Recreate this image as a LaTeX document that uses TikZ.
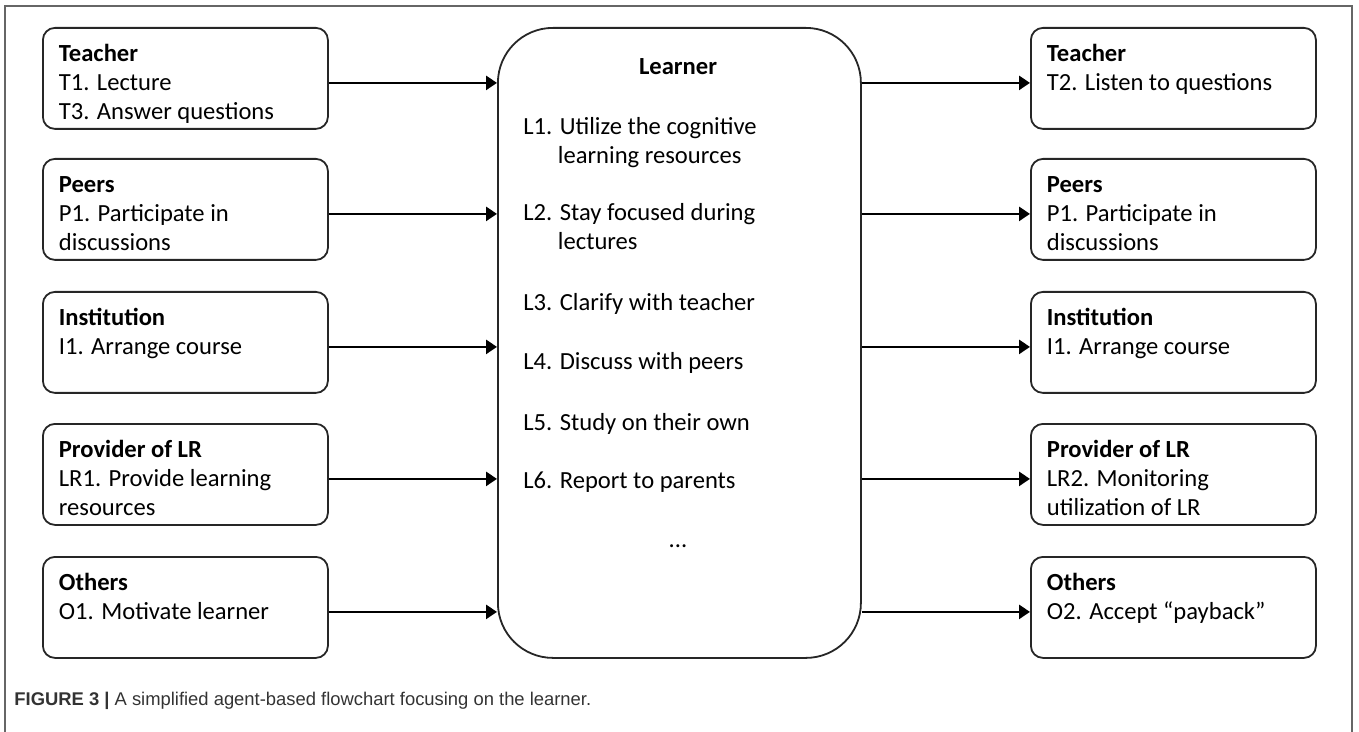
\documentclass[tikz,border=0pt]{standalone}
\usepackage{fontspec}
\setmainfont{Carlito}
\newfontfamily\captionfont{Liberation Sans}
\usetikzlibrary{arrows.meta}

\newcommand{\agent}[2]{\parbox[t][40pt][t]{126.5pt}{\rule{0pt}{11.75pt}\textbf{#1}\\#2}}

\tikzset{
  agentbox/.style={draw=black!85, line width=0.9pt, rounded corners=6pt,
    inner xsep=8pt, inner ysep=5.25pt, anchor=north west,
    font=\fontsize{12.3}{14.5}\selectfont},
  learnerbox/.style={draw=black!85, line width=0.9pt, rounded corners=27.5pt,
    minimum width=181.5pt, minimum height=315pt, inner sep=0pt, anchor=north west},
  item/.style={anchor=base west, align=left, inner sep=0pt,
    font=\fontsize{12.3}{14.5}\selectfont},
  flow/.style={line width=1.3pt, -{Triangle[length=5.5pt,width=7pt]}},
  frame/.style={draw=black!60, line width=0.7pt}
}

\begin{document}
\begin{tikzpicture}[x=0.5pt, y=-0.5pt]
  \useasboundingbox (0,0) rectangle (1359,732);
  \draw[frame] (5,732) -- (5,6) -- (1352,6) -- (1352,732);

  \node[agentbox] (lteacher) at (42,27) {\agent{Teacher}{T1. Lecture\\T3. Answer questions}};
  \node[agentbox] (lpeers) at (42,158) {\agent{Peers}{P1. Participate in\\discussions}};
  \node[agentbox] (linst) at (42,291) {\agent{Institution}{I1. Arrange course}};
  \node[agentbox] (lprov) at (42,423) {\agent{Provider of LR}{LR1. Provide learning\\resources}};
  \node[agentbox] (lothers) at (42,556) {\agent{Others}{O1. Motivate learner}};

  \node[agentbox] (rteacher) at (1030,27) {\agent{Teacher}{T2. Listen to questions}};
  \node[agentbox] (rpeers) at (1030,158) {\agent{Peers}{P1. Participate in\\discussions}};
  \node[agentbox] (rinst) at (1030,291) {\agent{Institution}{I1. Arrange course}};
  \node[agentbox] (rprov) at (1030,423) {\agent{Provider of LR}{LR2. Monitoring\\utilization of LR}};
  \node[agentbox] (rothers) at (1030,556) {\agent{Others}{O2. Accept “payback”}};

  \node[learnerbox] (learner) at (497,27) {};
  \node[item, anchor=base, font=\fontsize{12.3}{14.5}\selectfont\bfseries] (ltitle) at (678,75) {Learner};
  \node[item] (l1) at (523,164) {L1. Utilize the cognitive\\\phantom{L1.} learning resources};
  \node[item] (l2) at (523,250) {L2. Stay focused during\\\phantom{L2.} lectures};
  \node[item] (l3) at (523,311) {L3. Clarify with teacher};
  \node[item] (l4) at (523,370) {L4. Discuss with peers};
  \node[item] (l5) at (523,430) {L5. Study on their own};
  \node[item] (l6) at (523,488) {L6. Report to parents};
  \node[item, anchor=base] (ldots) at (678,547) {...};

  \path ([yshift=-2.25pt]lteacher.east) coordinate (a1)
        ([yshift=-2.25pt]lpeers.east) coordinate (a2)
        ([yshift=-2.25pt]linst.east) coordinate (a3)
        ([yshift=-2.25pt]lprov.east) coordinate (a4)
        ([yshift=-2.25pt]lothers.east) coordinate (a5)
        ([yshift=-2.25pt]rteacher.west) coordinate (b1)
        ([yshift=-2.25pt]rpeers.west) coordinate (b2)
        ([yshift=-2.25pt]rinst.west) coordinate (b3)
        ([yshift=-2.25pt]rprov.west) coordinate (b4)
        ([yshift=-2.25pt]rothers.west) coordinate (b5);
  \begin{scope}[flow]
    \draw (a1) -- (a1 -| learner.west);
    \draw (a2) -- (a2 -| learner.west);
    \draw (a3) -- (a3 -| learner.west);
    \draw (a4) -- (a4 -| learner.west);
    \draw (a5) -- (a5 -| learner.west);
    \draw (b1 -| learner.east) -- (b1);
    \draw (b2 -| learner.east) -- (b2);
    \draw (b3 -| learner.east) -- (b3);
    \draw (b4 -| learner.east) -- (b4);
    \draw (b5 -| learner.east) -- (b5);
  \end{scope}

  \node[anchor=base west, inner sep=0pt, text=black!80,
    font=\captionfont\fontsize{9.2}{11}\selectfont] (caption) at (14,705)
    {\textbf{FIGURE 3 |} A simplified agent-based flowchart focusing on the learner.};
\end{tikzpicture}
\end{document}
